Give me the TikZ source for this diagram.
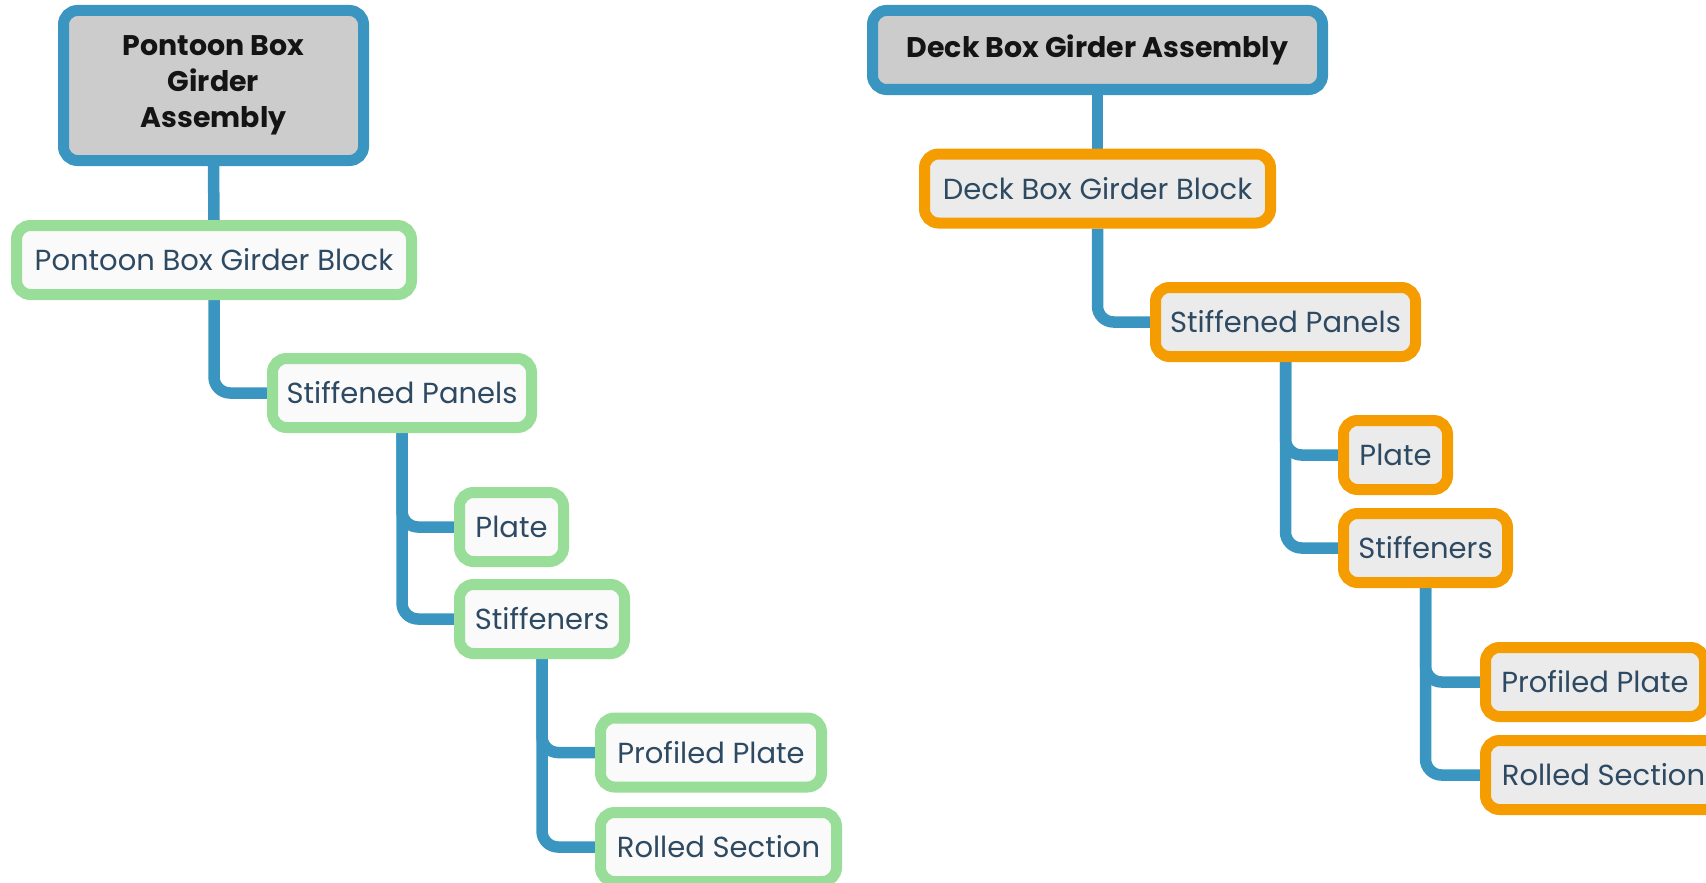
\documentclass[tikz,border=0pt]{standalone}
\usepackage{fontspec}
\setmainfont{Poppins}
\usetikzlibrary{backgrounds}
\definecolor{cblue}{HTML}{3A96C1}
\definecolor{rootfill}{HTML}{CCCCCC}
\definecolor{gline}{HTML}{98DD98}
\definecolor{gfill}{HTML}{FAFAFA}
\definecolor{oline}{HTML}{F59D00}
\definecolor{ofill}{HTML}{EBEBEB}
\definecolor{txt}{HTML}{2E4A62}
\begin{document}
\begin{tikzpicture}[x=1pt,y=-1pt,
  mmbox/.style={rectangle, rounded corners=14pt, line width=11pt, inner sep=0pt,
    minimum height=69pt, font=\fontsize{29}{34}\selectfont, text=txt},
  gbox/.style={mmbox, draw=gline, fill=gfill},
  obox/.style={mmbox, draw=oline, fill=ofill},
  rootbox/.style={mmbox, draw=cblue, fill=rootfill, text=black!92,
    font=\bfseries\fontsize{28.4}{36}\selectfont, align=center},
  conn/.style={draw=cblue, line width=11.5pt, rounded corners=16pt}]
\useasboundingbox (0,0) rectangle (1706,883);
\clip (0,0) rectangle (1706,883);
% left tree
\node[rootbox, minimum width=300pt, minimum height=150pt] (lr) at (213.5,85.5) {Pontoon Box\\Girder\\Assembly};
\node[gbox, minimum width=395pt] (lb) at (214,260) {Pontoon Box Girder Block};
\node[gbox, minimum width=259pt] (lsp) at (402,393) {Stiffened Panels};
\node[gbox, minimum width=104pt] (lpl) at (511.5,527) {Plate};
\node[gbox, minimum width=165pt] (lst) at (542,619) {Stiffeners};
\node[gbox, minimum width=221pt] (lpp) at (711,752.5) {Profiled Plate};
\node[gbox, minimum width=236pt] (lrs) at (718.5,847) {Rolled Section};
% right tree
\node[rootbox, minimum width=450pt, minimum height=79pt] (rr) at (1097.5,50) {Deck Box Girder Assembly};
\node[obox, minimum width=346pt] (rb) at (1097.5,188.5) {Deck Box Girder Block};
\node[obox, minimum width=260pt] (rsp) at (1285.5,322) {Stiffened Panels};
\node[obox, minimum width=104pt] (rpl) at (1395.5,455) {Plate};
\node[obox, minimum width=164pt] (rst) at (1425.5,548) {Stiffeners};
\node[obox, minimum width=219pt] (rpp) at (1595,682) {Profiled Plate};
\node[obox, minimum width=236pt] (rrs) at (1603.5,775) {Rolled Section};
\begin{scope}[on background layer]
\draw[conn] (lr.south) -- (lb.north);
\draw[conn] (lb.south) |- (lsp.west);
\draw[conn] (lsp.south) |- (lpl.west);
\draw[conn] (lsp.south) |- (lst.west);
\draw[conn] (lst.south) |- (lpp.west);
\draw[conn] (lst.south) |- (lrs.west);
\draw[conn] (rr.south) -- (rb.north);
\draw[conn] (rb.south) |- (rsp.west);
\draw[conn] (rsp.south) |- (rpl.west);
\draw[conn] (rsp.south) |- (rst.west);
\draw[conn] (rst.south) |- (rpp.west);
\draw[conn] (rst.south) |- (rrs.west);
\end{scope}
\end{tikzpicture}
\end{document}
